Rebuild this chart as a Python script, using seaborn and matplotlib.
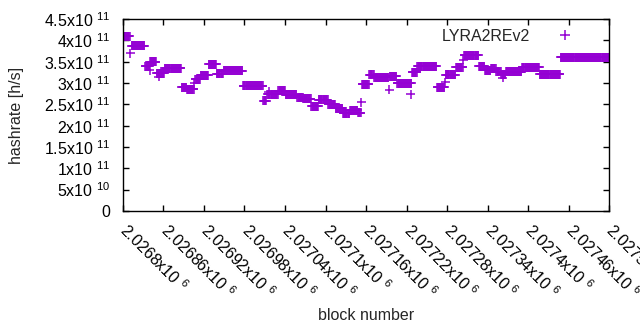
import numpy as np
import pandas as pd
import matplotlib
matplotlib.use("Agg")
import matplotlib.pyplot as plt
import seaborn as sns

# runs of blocks at a constant hashrate (values in 1e11 h/s)
seg_start = [2026800, 2026813, 2026833, 2026840, 2026850, 2026862, 2026887, 2026895,
             2026907, 2026915, 2026927, 2026939, 2026949, 2026978, 2027008, 2027014,
             2027030, 2027041, 2027058, 2027067, 2027079, 2027090, 2027104, 2027115,
             2027126, 2027136, 2027148, 2027154, 2027165, 2027172, 2027195, 2027206,
             2027228, 2027236, 2027265, 2027278, 2027293, 2027305, 2027327, 2027336,
             2027345, 2027353, 2027360, 2027367, 2027391, 2027417, 2027448]
seg_end = [2026810, 2026832, 2026839, 2026849, 2026861, 2026886, 2026894, 2026905,
           2026914, 2026926, 2026938, 2026948, 2026977, 2027007, 2027012, 2027029,
           2027040, 2027057, 2027066, 2027078, 2027089, 2027103, 2027114, 2027125,
           2027135, 2027147, 2027152, 2027164, 2027171, 2027193, 2027205, 2027227,
           2027235, 2027264, 2027276, 2027292, 2027303, 2027326, 2027335, 2027344,
           2027352, 2027359, 2027366, 2027390, 2027416, 2027447, 2027520]
seg_level = [4.10, 3.87, 3.40, 3.50, 3.23, 3.35, 2.90, 2.85,
             3.09, 3.18, 3.44, 3.22, 3.29, 2.94, 2.58, 2.74,
             2.82, 2.73, 2.67, 2.63, 2.46, 2.61, 2.50, 2.41,
             2.29, 2.36, 2.30, 2.97, 3.20, 3.14, 3.16, 2.99,
             3.25, 3.39, 2.90, 3.20, 3.37, 3.65, 3.40, 3.30,
             3.33, 3.26, 3.21, 3.27, 3.37, 3.21, 3.60]

# lone outlier blocks
single_block = [2026811, 2026840, 2026853, 2026906, 2027016, 2027153, 2027194,
                2027226, 2027277, 2027304, 2027362]
single_level = [3.70, 3.30, 3.15, 3.00, 2.80, 2.55, 2.84, 2.74, 3.02, 3.55, 3.12]

x_ticks = [2026800, 2026860, 2026920, 2026980, 2027040, 2027100, 2027160,
           2027220, 2027280, 2027340, 2027400, 2027460, 2027520]
x_mant = ["2.0268", "2.02686", "2.02692", "2.02698", "2.02704", "2.0271", "2.02716",
          "2.02722", "2.02728", "2.02734", "2.0274", "2.02746", "2.02752"]
y_ticks = [0, 0.5e11, 1e11, 1.5e11, 2e11, 2.5e11, 3e11, 3.5e11, 4e11, 4.5e11]
y_text = ["0", "5x10 $^{10}$", "1x10 $^{11}$", "1.5x10 $^{11}$", "2x10 $^{11}$",
          "2.5x10 $^{11}$", "3x10 $^{11}$", "3.5x10 $^{11}$", "4x10 $^{11}$",
          "4.5x10 $^{11}$"]

blocks, rates = [], []
for s, e, v in zip(seg_start, seg_end, seg_level):
    n = e - s + 1
    blocks.extend(range(s, e + 1))
    rates.extend([v * 1e11] * n)
blocks.extend(single_block)
rates.extend([v * 1e11 for v in single_level])
df = pd.DataFrame({"block": blocks, "hashrate": rates, "algo": "LYRA2REv2"})

sns.set_style("ticks")
plt.rcParams["font.family"] = ["Liberation Sans", "DejaVu Sans"]
plt.rcParams["mathtext.fontset"] = "custom"
plt.rcParams["mathtext.rm"] = "Liberation Sans"
plt.rcParams["mathtext.default"] = "regular"

fs = 11.5
fig = plt.figure(figsize=(6.4, 3.3), dpi=100)
ax = fig.add_axes([0.192, 0.361, 0.760, 0.581])

sns.scatterplot(data=df, x="block", y="hashrate", hue="algo", palette=["#9400D3"],
                marker="+", s=42, linewidth=1.1, ax=ax)

ax.set_xlim(2026800, 2027520)
ax.set_ylim(0, 4.5e11)
ax.set_xticks(x_ticks)
ax.set_xticklabels([m + "x10 $^{6}$" for m in x_mant], rotation=-45,
                   ha="left", va="center", rotation_mode="anchor")
ax.set_yticks(y_ticks)
ax.set_yticklabels(y_text)
ax.tick_params(direction="in", top=True, right=True, length=4, width=1,
               labelsize=fs, colors="black")
ax.tick_params(axis="x", pad=12)
ax.tick_params(axis="y", pad=9)
for sp in ax.spines.values():
    sp.set_linewidth(1.0)
    sp.set_color("black")

ax.set_xlabel("block number", fontsize=fs, labelpad=4)
ax.set_ylabel("hashrate [h/s]", fontsize=fs, labelpad=14)

leg = ax.legend(loc="upper right", frameon=False, markerfirst=False,
                fontsize=fs, handletextpad=1.2, borderaxespad=0.2,
                bbox_to_anchor=(0.962, 1.0))
leg.set_title(None)

fig.savefig("out.png", dpi=100)
